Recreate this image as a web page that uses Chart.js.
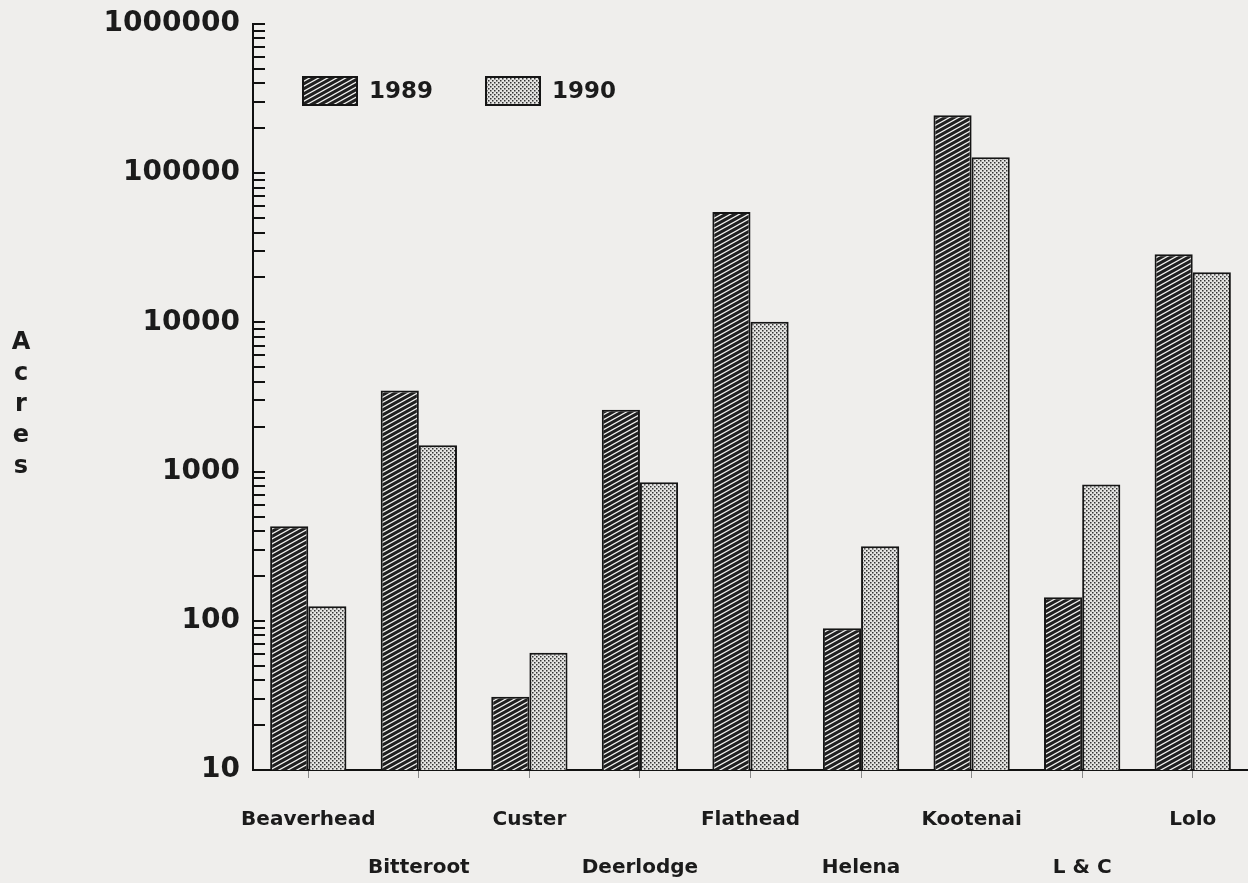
<!DOCTYPE html>
<html>
<head>
<meta charset="utf-8">
<title>Acres by forest, 1989 and 1990</title>
<script src="https://cdn.jsdelivr.net/npm/chart.js@4.4.1/dist/chart.umd.min.js"></script>
<style>
  html, body { margin: 0; padding: 0; background: #efeeec; }
  #wrap { position: relative; width: 1248px; height: 883px; }
</style>
</head>
<body>
<div id="wrap"><canvas id="chart_acres"></canvas></div>
<script>
// data
var categories = ['Beaverhead', 'Bitteroot', 'Custer', 'Deerlodge', 'Flathead', 'Helena', 'Kootenai', 'L & C', 'Lolo'];
var acres1989 = [430, 3500, 31, 2600, 55000, 89, 245000, 144, 28600];
var acres1990 = [125, 1500, 61, 850, 10100, 316, 128000, 820, 21700];
var seriesNames = ['1989', '1990'];
var yTickLabels = [10, 100, 1000, 10000, 100000, 1000000];
var yAxisTitle = 'Acres';

// fill patterns like the old print
function hatchPattern() {
    var c = document.createElement('canvas');
    c.width = 9; c.height = 5;
    var g = c.getContext('2d');
    g.fillStyle = '#202020';
    g.fillRect(0, 0, 9, 5);
    g.strokeStyle = '#f4f4f2';
    g.lineWidth = 1.2;
    for (var k = -1; k <= 1; k++) {
        g.beginPath();
        g.moveTo(-9, 10 + k * 5);
        g.lineTo(18, -5 + k * 5);
        g.stroke();
    }
    return g.createPattern(c, 'repeat');
}
function dotPattern() {
    var c = document.createElement('canvas');
    c.width = 4; c.height = 4;
    var g = c.getContext('2d');
    g.fillStyle = '#e4e4e2';
    g.fillRect(0, 0, 4, 4);
    g.fillStyle = '#333';
    g.fillRect(0, 0, 1.5, 1.5);
    g.fillRect(2, 2, 1.5, 1.5);
    return g.createPattern(c, 'repeat');
}

var fontFamily = '"DejaVu Sans", "Liberation Sans", sans-serif';

function isDecade(v) {
    var l = Math.log10(v);
    return Math.abs(l - Math.round(l)) < 1e-9;
}

var chart_acres = new Chart(document.getElementById('chart_acres'), {
    type: 'bar',
    data: {
        labels: categories.map(function (c, i) { return i % 2 === 0 ? [c, ''] : ['', c]; }),
        datasets: [
            {
                label: seriesNames[0],
                data: acres1989,
                backgroundColor: hatchPattern(),
                borderColor: '#151515',
                borderWidth: 2,
                borderSkipped: 'bottom'
            },
            {
                label: seriesNames[1],
                data: acres1990,
                backgroundColor: dotPattern(),
                borderColor: '#151515',
                borderWidth: 2,
                borderSkipped: 'bottom'
            }
        ]
    },
    options: {
        animation: false,
        responsive: true,
        maintainAspectRatio: false,
        layout: { padding: { top: 24, left: 0, right: 0, bottom: 0 } },
        datasets: {
            bar: { categoryPercentage: 0.69, barPercentage: 1.0 }
        },
        plugins: {
            legend: { display: false },
            tooltip: { enabled: false }
        },
        scales: {
            x: {
                grid: { display: true, offset: false, drawOnChartArea: false, drawTicks: true, tickLength: 8, color: '#888', lineWidth: 1 },
                border: { display: true, color: '#111', width: 2 },
                ticks: {
                    autoSkip: false,
                    maxRotation: 0,
                    padding: 18,
                    color: '#1b1b1b',
                    font: { family: fontFamily, weight: 'bold', size: 20, lineHeight: 48 / 20 }
                },
                afterFit: function (scale) { scale.height = 113; }
            },
            y: {
                type: 'logarithmic',
                min: 10,
                max: 1000000,
                grid: { display: false, drawTicks: false },
                border: { display: true, color: '#111', width: 2 },
                ticks: {
                    autoSkip: false,
                    padding: 13,
                    color: '#1b1b1b',
                    font: { family: fontFamily, weight: 'bold', size: 28, lineHeight: 0.6 },
                    callback: function (value) { return isDecade(value) ? String(Math.round(value)) : ''; }
                },
                afterFit: function (scale) { scale.width = 253; }
            }
        }
    },
    plugins: [{
        id: 'paperBackground',
        beforeDraw: function (chart) {
            var ctx = chart.ctx;
            ctx.save();
            ctx.fillStyle = '#efeeec';
            ctx.fillRect(0, 0, chart.width, chart.height);
            ctx.restore();
        }
    }, {
        id: 'innerTicks',
        afterDraw: function (chart) {
            var ctx = chart.ctx, y = chart.scales.y, left = chart.chartArea.left;
            ctx.save();
            ctx.strokeStyle = '#111';
            ctx.lineWidth = 2;
            yTickLabels.forEach(function (dec, i) {
                var steps = i < yTickLabels.length - 1 ? 9 : 1;
                for (var s = 1; s <= steps; s++) {
                    var py = Math.round(y.getPixelForValue(dec * s));
                    ctx.beginPath();
                    ctx.moveTo(left, py);
                    ctx.lineTo(left + 12, py);
                    ctx.stroke();
                }
            });
            ctx.restore();
        }
    }, {
        id: 'stackedTitleAndLegend',
        afterDraw: function (chart) {
            var ctx = chart.ctx, area = chart.chartArea;
            ctx.save();
            // vertical "Acres"
            ctx.fillStyle = '#1b1b1b';
            ctx.font = 'bold 24px ' + fontFamily;
            ctx.textAlign = 'center';
            ctx.textBaseline = 'middle';
            var letters = yAxisTitle.split('');
            var mid = (area.top + area.bottom) / 2 + 8;
            letters.forEach(function (ch, i) {
                ctx.fillText(ch, 21, mid + (i - (letters.length - 1) / 2) * 31);
            });
            // legend inside the plot
            var offsets = [50, 233];
            chart.data.datasets.forEach(function (ds, i) {
                var x = area.left + offsets[i], top = area.top + 53;
                ctx.fillStyle = ds.backgroundColor;
                ctx.fillRect(x, top, 54, 28);
                ctx.strokeStyle = '#151515';
                ctx.lineWidth = 2;
                ctx.strokeRect(x, top, 54, 28);
                ctx.fillStyle = '#1b1b1b';
                ctx.font = 'bold 23px ' + fontFamily;
                ctx.textAlign = 'left';
                ctx.fillText(ds.label, x + 66, top + 15);
            });
            ctx.restore();
        }
    }]
});
</script>
</body>
</html>
